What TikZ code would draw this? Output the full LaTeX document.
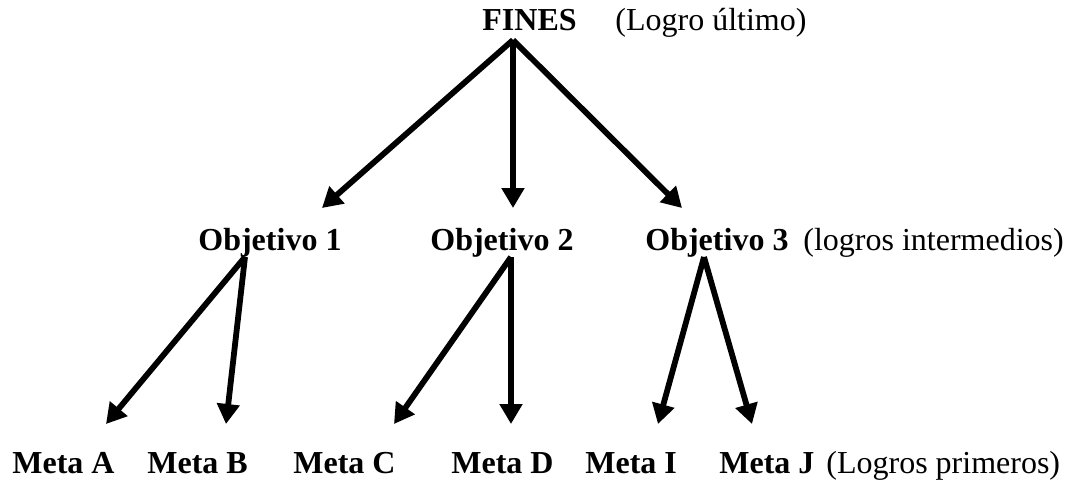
\documentclass[tikz,border=0pt]{standalone}
\usepackage{fontspec}
\setmainfont{Liberation Serif}
\usetikzlibrary{arrows.meta}

\begin{document}
\begin{tikzpicture}[x=0.5pt, y=-0.5pt]
\tikzstyle{every node}=[inner sep=0pt, anchor=base west,
                        font=\fontsize{16}{19}\selectfont\bfseries]
\tikzstyle{nota}=[font=\fontsize{16}{19}\selectfont]
\tikzstyle{flecha}=[-{Triangle[length=10pt,width=11pt]}, line width=2.9pt]
\useasboundingbox (0,0) rectangle (1073,484);
\node (fines) at (482,30) {FINES};
\node[nota] (ultimo) at (615,30) {(Logro último)};
\node (obj1) at (198,250) {Objetivo 1};
\node (obj2) at (430,250) {Objetivo 2};
\node (obj3) at (645,250) {Objetivo 3};
\node[nota] (intermedios) at (803,250) {(logros intermedios)};
\node (metaA) at (12,473) {Meta A};
\node (metaB) at (147,473) {Meta B};
\node (metaC) at (293,473) {Meta C};
\node (metaD) at (451,473) {Meta D};
\node (metaI) at (585,473) {Meta I};
\node (metaJ) at (719,473) {Meta J};
\node[nota] (primeros) at (826,473) {(Logros primeros)};
\foreach \i/\a/\j/\b in {fines/15.5/obj1/62, fines/15.5/obj2/41.5, fines/15.5/obj3/18.5}{
  \draw[flecha] ([xshift=\a pt, yshift=-5pt]\i.base west) -- ([xshift=\b pt, yshift=21pt]\j.base west);}
\foreach \i/\a/\j/\b in {obj1/23.5/metaA/47, obj1/23.5/metaB/39.5, obj2/40.5/metaC/50.5,
                         obj2/40.5/metaD/30, obj3/29.5/metaI/36.5, obj3/29.5/metaJ/16.5}{
  \draw[flecha] ([xshift=\a pt, yshift=-3.5pt]\i.base west) -- ([xshift=\b pt, yshift=24.5pt]\j.base west);}
\end{tikzpicture}
\end{document}
